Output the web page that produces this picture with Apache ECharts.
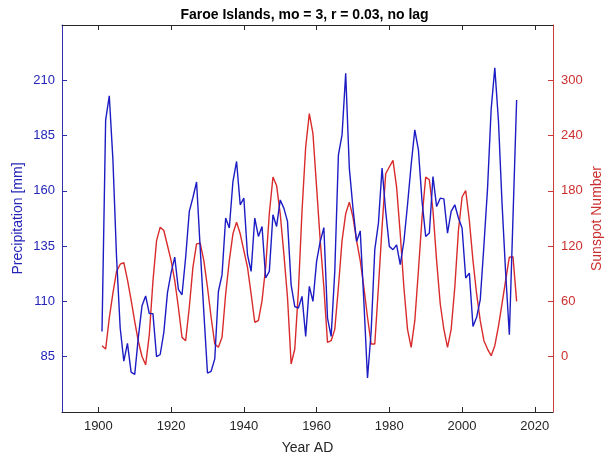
<!DOCTYPE html>
<html>
<head>
<meta charset="utf-8">
<script src="https://cdn.jsdelivr.net/npm/echarts@6/dist/echarts.min.js"></script>
<style>
html,body{margin:0;padding:0;background:#fff;}
#chart{width:609px;height:461px;}
</style>
</head>
<body>
<div id="chart"></div>
<script>
// ---- data ----
const firstYear = 1901;
const precipitation = [
  96.4, 192, 203, 174, 130, 98, 83, 91, 78, 77,
  94, 108, 112.5, 104.5, 104.5, 85, 86, 96, 114, 123,
  130, 115.5, 113, 130, 150.7, 157, 164, 134, 105, 77.6,
  78.4, 84, 114.5, 122, 147.7, 143.2, 164.2, 173.3, 153.7, 156.7,
  131.1, 123.6, 147.7, 139.4, 143.9, 120.6, 123.6, 149.2, 143.9, 155.9,
  152.2, 146.2, 117.5, 107.7, 107, 112.3, 94.2, 116.8, 110, 128.1,
  137.1, 143.4, 102.5, 94.2, 123.6, 176.3, 185.3, 213.2, 170.3, 152.2,
  137.1, 141.9, 110, 75.4, 96.4, 133.4, 145.4, 170.3, 150.7, 134.9,
  133.4, 135.6, 126.6, 137.1, 153.7, 171.8, 187.6, 178.5, 155.2, 139.4,
  140.9, 166.5, 152.9, 156.7, 156.4, 140.9, 150.7, 153.7, 147.7, 143.2,
  120.6, 122.8, 98.7, 102.8, 110.8, 135.2, 161, 197, 215.6, 191.7,
  154, 122.4, 94.9, 148, 201.1
];
const sunspots = [
  12, 8.3, 42, 69, 92.6, 100.4, 102, 83.5, 61.8, 38.2,
  16.5, 0.2, -8.8, 23.7, 81.7, 126, 140.6, 137, 120.7, 104.3,
  82.6, 53.7, 21, 17.4, 53.7, 97.2, 122.5, 123.2, 104.3, 75.4,
  42.8, 13.8, 10.2, 21.1, 68.1, 104.3, 133.4, 146.1, 133.4, 115.2,
  97.1, 68.1, 37.4, 39.1, 60.9, 97.1, 155.1, 195, 185.9, 155.1,
  111.6, 64.6, -7.9, 8.4, 71.7, 158.7, 227.6, 263.8, 242, 184.1,
  126, 75.4, 15.6, 17.4, 29.7, 75.4, 126, 155.1, 167.8, 151.5,
  126, 104.3, 75.4, 42.8, 13.8, 13.8, 75.4, 140.6, 198.6, 205.9,
  213, 184.1, 133.4, 75.4, 29.7, 10.2, 39.1, 93.5, 151.5, 195,
  192, 158.7, 104.3, 57.2, 29.7, 10.2, 29.7, 75.4, 137, 173.3,
  180.4, 147.8, 104.3, 68.1, 39.1, 17.4, 8.3, 1.1, 12, 33,
  58, 83.5, 108, 108.5, 60
];
const xTicks = [1900, 1920, 1940, 1960, 1980, 2000, 2020];
const leftTicks = [85, 110, 135, 160, 185, 210];
const rightTicks = [0, 60, 120, 180, 240, 300];

const years = precipitation.map((_, i) => firstYear + i);
const precipData = years.map((y, i) => [y, precipitation[i]]);
const sunData = years.map((y, i) => [y, sunspots[i]]);

const FONT = 'Liberation Sans, Arial, Helvetica, sans-serif';
const BLUE = '#1c1cc4';
const RED = '#d92b2b';
const GRAY = '#262626';
const plain = v => String(v);

const chart = echarts.init(document.getElementById('chart'), null, {renderer: 'canvas'});
chart.setOption({
  animation: false,
  backgroundColor: '#ffffff',
  title: {
    text: 'Faroe Islands, mo = 3, r = 0.03, no lag',
    left: 'center',
    top: 3,
    textStyle: {fontFamily: FONT, fontSize: 14, fontWeight: 'bold', color: '#000'}
  },
  grid: {left: 62, right: 56, top: 25, bottom: 49, containLabel: false, outerBoundsMode: 'none'},
  xAxis: [{
    type: 'value', position: 'bottom', min: 1890, max: 2025,
    axisLine: {onZero: false, lineStyle: {color: GRAY, width: 1}},
    axisTick: {inside: true, length: 5, customValues: xTicks, lineStyle: {color: GRAY}},
    axisLabel: {customValues: xTicks, formatter: plain, color: GRAY, fontFamily: FONT, fontSize: 13, margin: 8},
    splitLine: {show: false},
    name: 'Year AD', nameLocation: 'middle', nameGap: 29,
    nameTextStyle: {color: GRAY, fontFamily: FONT, fontSize: 14}
  }, {
    type: 'value', position: 'top', min: 1890, max: 2025,
    axisLine: {onZero: false, lineStyle: {color: GRAY, width: 1}},
    axisTick: {inside: true, length: 5, customValues: xTicks, lineStyle: {color: GRAY}},
    axisLabel: {show: false},
    splitLine: {show: false}
  }],
  yAxis: [{
    type: 'value', position: 'left', min: 60, max: 235,
    axisLine: {show: true, onZero: false, lineStyle: {color: '#3030b0', width: 1}},
    axisTick: {show: true, inside: true, length: 5, customValues: leftTicks, lineStyle: {color: '#3030b0'}},
    axisLabel: {customValues: leftTicks, formatter: plain, color: '#2424b8', fontFamily: FONT, fontSize: 13, margin: 7},
    splitLine: {show: false},
    name: 'Precipitation [mm]', nameLocation: 'middle', nameGap: 44, nameRotate: 90, nameMoveOverlap: false,
    nameTextStyle: {color: '#2424b8', fontFamily: FONT, fontSize: 14, verticalAlign: 'middle'}
  }, {
    type: 'value', position: 'right', min: -60, max: 360,
    axisLine: {show: true, onZero: false, lineStyle: {color: '#cc3a3a', width: 1}},
    axisTick: {show: true, inside: true, length: 5, customValues: rightTicks, lineStyle: {color: '#cc3a3a'}},
    axisLabel: {customValues: rightTicks, formatter: plain, color: '#cc2f2f', fontFamily: FONT, fontSize: 13, margin: 8},
    splitLine: {show: false},
    name: 'Sunspot Number', nameLocation: 'middle', nameGap: 44, nameRotate: 90, nameMoveOverlap: false,
    nameTextStyle: {color: '#cc2f2f', fontFamily: FONT, fontSize: 14, verticalAlign: 'middle'}
  }],
  series: [{
    name: 'Precipitation', type: 'line', xAxisIndex: 0, yAxisIndex: 0,
    data: precipData, showSymbol: false, symbol: 'none',
    lineStyle: {color: BLUE, width: 1.4}, z: 3
  }, {
    name: 'Sunspots', type: 'line', xAxisIndex: 0, yAxisIndex: 1,
    data: sunData, showSymbol: false, symbol: 'none',
    lineStyle: {color: RED, width: 1.4}, z: 2
  }]
});
</script>
</body>
</html>
